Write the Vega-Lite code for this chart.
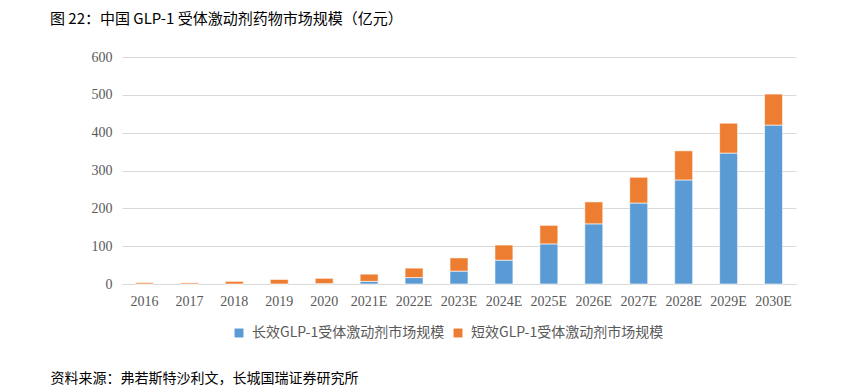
{
  "$schema": "https://vega.github.io/schema/vega-lite/v6.json",
  "autosize": {"type": "none"},
  "width": 674,
  "height": 227,
  "padding": {"left": 122, "top": 57, "right": 69, "bottom": 105},
  "background": "white",
  "title": {
    "text": "图 22：中国 GLP-1 受体激动剂药物市场规模（亿元）",
    "anchor": "start",
    "frame": "group",
    "dx": -72,
    "offset": 23,
    "font": "Noto Sans CJK SC",
    "fontSize": 15,
    "fontWeight": "normal",
    "color": "#000000"
  },
  "data": {
    "values": [
      {"year": "2016", "type": "长效GLP-1受体激动剂市场规模", "value": 0},
      {"year": "2016", "type": "短效GLP-1受体激动剂市场规模", "value": 3.5},
      {"year": "2017", "type": "长效GLP-1受体激动剂市场规模", "value": 0},
      {"year": "2017", "type": "短效GLP-1受体激动剂市场规模", "value": 3},
      {"year": "2018", "type": "长效GLP-1受体激动剂市场规模", "value": 0},
      {"year": "2018", "type": "短效GLP-1受体激动剂市场规模", "value": 7},
      {"year": "2019", "type": "长效GLP-1受体激动剂市场规模", "value": 0},
      {"year": "2019", "type": "短效GLP-1受体激动剂市场规模", "value": 12},
      {"year": "2020", "type": "长效GLP-1受体激动剂市场规模", "value": 1},
      {"year": "2020", "type": "短效GLP-1受体激动剂市场规模", "value": 14},
      {"year": "2021E", "type": "长效GLP-1受体激动剂市场规模", "value": 7},
      {"year": "2021E", "type": "短效GLP-1受体激动剂市场规模", "value": 19},
      {"year": "2022E", "type": "长效GLP-1受体激动剂市场规模", "value": 17},
      {"year": "2022E", "type": "短效GLP-1受体激动剂市场规模", "value": 25},
      {"year": "2023E", "type": "长效GLP-1受体激动剂市场规模", "value": 34},
      {"year": "2023E", "type": "短效GLP-1受体激动剂市场规模", "value": 35},
      {"year": "2024E", "type": "长效GLP-1受体激动剂市场规模", "value": 63},
      {"year": "2024E", "type": "短效GLP-1受体激动剂市场规模", "value": 40},
      {"year": "2025E", "type": "长效GLP-1受体激动剂市场规模", "value": 106},
      {"year": "2025E", "type": "短效GLP-1受体激动剂市场规模", "value": 49},
      {"year": "2026E", "type": "长效GLP-1受体激动剂市场规模", "value": 159},
      {"year": "2026E", "type": "短效GLP-1受体激动剂市场规模", "value": 58},
      {"year": "2027E", "type": "长效GLP-1受体激动剂市场规模", "value": 214},
      {"year": "2027E", "type": "短效GLP-1受体激动剂市场规模", "value": 68},
      {"year": "2028E", "type": "长效GLP-1受体激动剂市场规模", "value": 275},
      {"year": "2028E", "type": "短效GLP-1受体激动剂市场规模", "value": 77},
      {"year": "2029E", "type": "长效GLP-1受体激动剂市场规模", "value": 346},
      {"year": "2029E", "type": "短效GLP-1受体激动剂市场规模", "value": 79},
      {"year": "2030E", "type": "长效GLP-1受体激动剂市场规模", "value": 420},
      {"year": "2030E", "type": "短效GLP-1受体激动剂市场规模", "value": 82}
    ]
  },
  "mark": {"type": "bar", "stroke": "white", "strokeWidth": 0.6},
  "encoding": {
    "x": {
      "field": "year",
      "type": "ordinal",
      "sort": null,
      "scale": {"paddingInner": 0.6, "paddingOuter": 0.3},
      "axis": {
        "title": "资料来源：弗若斯特沙利文，长城国瑞证券研究所",
        "titleAnchor": "start",
        "titleAlign": "left",
        "titleBaseline": "top",
        "titleX": -72,
        "titleY": 87,
        "titleFont": "Noto Sans CJK SC",
        "titleFontSize": 14,
        "titleFontWeight": "normal",
        "titleColor": "#000000",
        "labelAngle": 0,
        "labelFont": "Liberation Serif",
        "labelFontSize": 14,
        "labelColor": "#595959",
        "labelPadding": 10,
        "ticks": false,
        "domainColor": "#d9d9d9",
        "domainWidth": 1
      }
    },
    "y": {
      "field": "value",
      "type": "quantitative",
      "stack": "zero",
      "scale": {"domain": [0, 600]},
      "axis": {
        "title": null,
        "values": [0, 100, 200, 300, 400, 500, 600],
        "labelFont": "Liberation Serif",
        "labelFontSize": 14,
        "labelColor": "#595959",
        "labelPadding": 10,
        "ticks": false,
        "domain": false,
        "gridColor": "#d9d9d9",
        "gridWidth": 1
      }
    },
    "color": {
      "field": "type",
      "type": "nominal",
      "sort": ["长效GLP-1受体激动剂市场规模", "短效GLP-1受体激动剂市场规模"],
      "scale": {
        "domain": ["长效GLP-1受体激动剂市场规模", "短效GLP-1受体激动剂市场规模"],
        "range": ["#5B9BD5", "#ED7D31"]
      },
      "legend": {
        "title": null,
        "orient": "none",
        "direction": "horizontal",
        "legendX": 110,
        "legendY": 269,
        "symbolType": "square",
        "symbolSize": 80,
        "symbolStrokeWidth": 0,
        "labelFont": "Noto Sans CJK SC",
        "labelFontSize": 14,
        "labelLimit": 0,
        "labelColor": "#595959",
        "columnPadding": 6,
        "labelOffset": 6
      }
    },
    "order": {"field": "type", "sort": "descending"}
  },
  "config": {
    "view": {"stroke": null}
  }
}
